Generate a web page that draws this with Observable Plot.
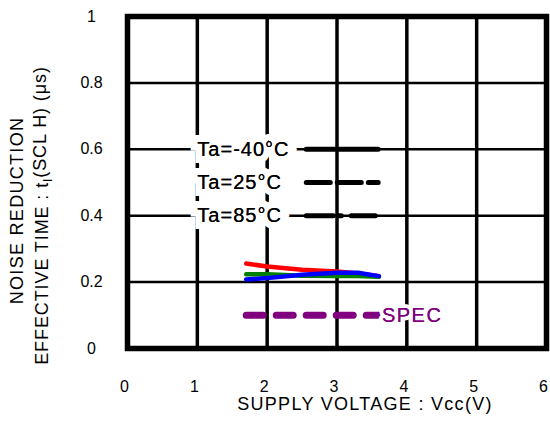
<!DOCTYPE html>
<html><head><meta charset="utf-8">
<script src="https://cdn.jsdelivr.net/npm/d3@7"></script>
<script src="https://cdn.jsdelivr.net/npm/@observablehq/plot@0.6"></script>
<style>body{margin:0;background:#fff} svg{display:block}</style>
</head><body><div id="chart"></div>
<script>
// ---- data ----
const vcc = [1.7, 2.0, 2.5, 3.0, 3.3, 3.6];
const redValues   = [0.256, 0.247, 0.237, 0.232, 0.226, 0.218];
const greenValues = [0.224, 0.224, 0.219, 0.218, 0.218, 0.216];
const blueValues  = [0.208, 0.212, 0.222, 0.228, 0.228, 0.218];
const specVcc = [1.7, 3.6];
const specValues = [0.1, 0.1];
const legendLabels = ["Ta=-40°C", "Ta=25°C", "Ta=85°C"];
const xTicks = [0, 1, 2, 3, 4, 5, 6];
const xTickLabels = ["0", "1", "2", "3", "4", "5", "6"];
const yTicks = [0, 0.2, 0.4, 0.6, 0.8, 1];
const yTickLabels = ["0", "0.2", "0.4", "0.6", "0.8", "1"];
const xTitle = "SUPPLY VOLTAGE : Vcc(V)";
const yTitle1 = "NOISE REDUCTION";
const yTitle2Parts = ["EFFECTIVE TIME : t", "I", "(SCL H) (μs)"];
const specLabel = "SPEC";

// ---- build tables ----
const series = [
  {name: "red", values: redValues, color: "#ff0000"},
  {name: "green", values: greenValues, color: "#008000"},
  {name: "blue", values: blueValues, color: "#0000ff"}
];
const rows = series.flatMap(s => vcc.map((v, i) => ({vcc: v, t: s.values[i], s: s.name})));
const spec = specVcc.map((v, i) => ({vcc: v, t: specValues[i]}));
const yTitle2 = yTitle2Parts.join("");

// legend layout (annotation placement)
const legendRowY = [0.6, 0.5, 0.4];
const legendTextX = 1.0;
const legendLineX = [2.56, 3.59];
const legend = legendLabels.map((l, i) => ({label: l, y: legendRowY[i]}));
const legendDash = [null, "24,7", "27,5,3,10,24"];

const font = "'Liberation Sans', Arial, sans-serif";

const plot = Plot.plot({
  width: 550,
  height: 426,
  marginLeft: 127,
  marginRight: 4,
  marginTop: 16,
  marginBottom: 78,
  style: {fontFamily: font, fontSize: "15px", color: "#000", background: "#fff"},
  x: {domain: [0, 6]},
  y: {domain: [0, 1]},
  marks: [
    Plot.ruleX(xTicks.slice(1, -1), {stroke: "#000", strokeWidth: 3.5}),
    Plot.ruleY(yTicks.slice(1, -1), {stroke: "#000", strokeWidth: 2.5}),
    // legend text with white background halo
    Plot.text(legend, {x: () => legendTextX, y: "y", text: "label", textAnchor: "start",
      fontSize: 20, fill: "#000", stroke: "#fff", strokeWidth: 14, strokeLinejoin: "miter",
      className: "lt"}),
    Plot.text(legend, {x: () => legendTextX, y: "y", text: "label", textAnchor: "start",
      fontSize: 20, fill: "#000", className: "lt"}),
    ...legend.map((d, i) => Plot.line(legendLineX.map(x => ({x, y: d.y})),
      {x: "x", y: "y", stroke: "#000", strokeWidth: 5, strokeDasharray: legendDash[i] || undefined})),
    // data
    ...series.map(s => Plot.line(rows.filter(r => r.s === s.name),
      {x: "vcc", y: "t", stroke: s.color, strokeWidth: 4.5})),
    // spec
    Plot.line(spec, {x: "vcc", y: "t", stroke: "#800080", strokeWidth: 7,
      strokeDasharray: "17,13", strokeLinecap: "round"}),
    Plot.text([specLabel], {x: () => specVcc[1], y: () => specValues[0], text: d => d,
      textAnchor: "start", dx: 3, fontSize: 20, fill: "#800080", stroke: "#fff", strokeWidth: 8, className: "sp"}),
    Plot.text([specLabel], {x: () => specVcc[1], y: () => specValues[0], text: d => d,
      textAnchor: "start", dx: 3, fontSize: 20, fill: "#800080", className: "sp"}),
    Plot.frame({stroke: "#000", strokeWidth: 5.5}),
    Plot.axisX({ticks: xTicks, tickFormat: (d, i) => xTickLabels[i], tickSize: 0, tickPadding: 32,
      dx: -3, label: null, fontSize: 16}),
    Plot.axisY({ticks: yTicks, tickFormat: (d, i) => yTickLabels[i], tickSize: 0, tickPadding: 36,
      textAnchor: "middle", label: null, fontSize: 16}),
    Plot.text([xTitle], {frameAnchor: "bottom", text: d => d, textAnchor: "middle", dy: 61, dx: 28,
      fontSize: 18, className: "ttl"}),
    Plot.text([yTitle1], {frameAnchor: "left", text: d => d, textAnchor: "middle", rotate: -90,
      dx: -110, dy: 28, fontSize: 18, className: "ttl"}),
    Plot.text([yTitle2], {frameAnchor: "left", text: d => d, textAnchor: "middle", rotate: -90,
      dx: -85, dy: 33, fontSize: 18, className: "ttl2"})
  ]
});

// letter spacing to match the wide glyphs of the reference
d3.select(plot).selectAll(".ttl text").attr("letter-spacing", "1.3px");
d3.select(plot).selectAll(".ttl2 text").attr("letter-spacing", "0.9px");
d3.select(plot).selectAll(".lt text").attr("letter-spacing", "1px");
d3.select(plot).selectAll(".sp text").attr("letter-spacing", "1.5px");

// subscript for t_I
d3.select(plot).selectAll("text").filter(function() { return this.textContent === yTitle2; })
  .each(function() {
    const t = d3.select(this);
    t.text(null);
    t.append("tspan").text(yTitle2Parts[0]);
    t.append("tspan").attr("dy", "0.35em").attr("font-size", "12px").text(yTitle2Parts[1]);
    t.append("tspan").attr("dy", "-0.35em").text(yTitle2Parts[2]);
  });

document.getElementById("chart").append(plot);
</script>
</body></html>
